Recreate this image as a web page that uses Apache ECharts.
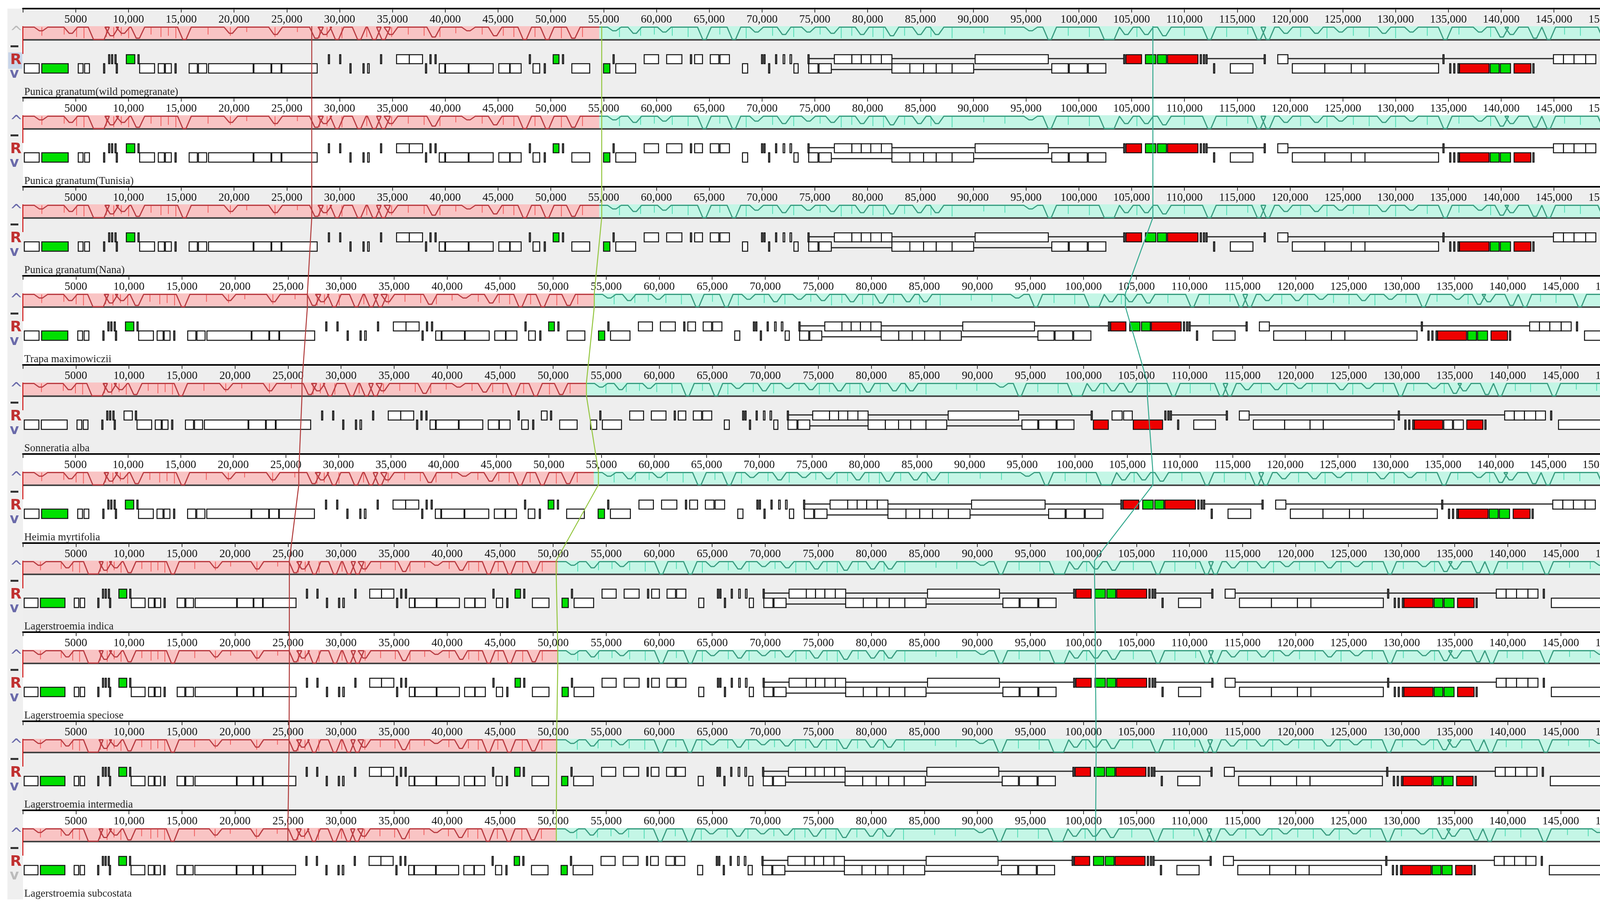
<!DOCTYPE html>
<html>
<head>
<meta charset="utf-8">
<script src="https://cdn.jsdelivr.net/npm/echarts@6/dist/echarts.min.js"></script>
<style>html,body{margin:0;padding:0;background:#fff}#chart{width:4396px;height:2324px}</style>
</head>
<body>
<div id="chart"></div>
<script>
// genomes, top to bottom
var genomeNames = ['Punica granatum(wild pomegranate)', 'Punica granatum(Tunisia)', 'Punica granatum(Nana)',
    'Trapa maximowiczii', 'Sonneratia alba', 'Heimia myrtifolia', 'Lagerstroemia indica',
    'Lagerstroemia speciose', 'Lagerstroemia intermedia', 'Lagerstroemia subcostata'];
var genomeLengths = [158600, 158600, 158600, 155400, 152800, 159200, 152300, 152300, 152200, 152100];
var lcbBoundaries = [54580, 54580, 54580, 53880, 53140, 54270, 50440, 50440, 50400, 50350];
// connector line positions (bp) per genome
var connRed = [27240, 27240, 27240, 26830, 26320, 26020, 25130, 25130, 25100, 24990];
var connGreen = [54580, 54580, 54580, 53880, 53140, 54270, 50290, 50440, 50330, 50300];
var connTeal = [106550, 106550, 106550, 103960, 106030, 106550, 101050, 101130, 101200, 101150];

// similarity profile dips of the reference genome: [start, end, depth 0..1]
var redDips = [[1720,1720,0.3],[4540,4540,0.5],[6840,7540,1.0],[8420,8420,0.7],[9480,9480,0.5],[10890,10890,0.9],
    [15300,15300,1.0],[19700,19700,0.5],[23930,23930,0.6],[27800,27800,0.9],[28600,28600,0.6],[29750,29750,1.0],
    [31850,31850,1.0],[33280,33280,1.0],[34150,34150,1.0],[34860,34860,0.6],[38910,38910,0.8],[42200,42200,0.3],
    [44730,44730,0.7],[47530,47530,1.0],[49660,49660,1.0],[52130,52130,0.9]];
var greenDips = [[56020,56020,0.3],[57950,57950,0.5],[60750,60750,0.4],[64540,64540,1.0],[67340,67340,1.0],
    [69480,69480,0.4],[72080,72080,0.6],[74400,74400,0.4],[76680,76680,0.5],[79480,79480,0.6],[82300,82300,0.7],
    [84900,84900,0.6],[86570,86570,0.6],[95440,95440,0.3],[97240,97240,1.0],[102560,103200,1.0],[104500,104500,0.6],
    [106400,106400,0.6],[108100,108100,0.7],[112360,112360,1.0],[117050,117050,1.0],[117900,117900,1.0],
    [119600,119600,0.5],[122500,122500,0.5],[124800,124800,0.4],[128900,128900,0.5],[131500,131500,0.4],
    [134700,134700,1.0],[138000,138000,0.4],[140050,140050,0.8],[141000,141000,0.6],[143200,143200,0.9],
    [144500,144500,1.0],[149800,149800,1.0],[155000,155000,0.3]];
// thin bright spikes in the profile: [position, depth]
var redSpikes = [[1800,0.7],[3915,0.6],[5090,0.8],[5790,0.9],[7910,0.8],[8610,0.9],[9320,0.7],[10020,0.9],
    [12140,0.6],[13080,0.8],[13780,0.7],[14490,0.9],[17540,0.6],[19650,0.7],[21200,0.4],[23880,0.8],[26000,0.4],
    [28110,0.9],[28810,0.8],[30220,0.9],[32570,0.8],[34920,0.8],[36500,0.6],[38000,0.7],[39500,0.8],[41000,0.5],
    [43500,0.6],[45500,0.7],[46500,0.8],[48500,0.8],[51000,0.9],[53000,0.8]];
var greenSpikes = [[56500,0.8],[58500,0.7],[59800,0.6],[61500,0.7],[63000,0.8],[66000,0.6],[68500,0.9],[71000,0.7],
    [73000,0.8],[75500,0.6],[77500,0.9],[78500,0.7],[80500,0.8],[81500,0.9],[83500,0.7],[86000,0.8],[88000,0.9],
    [91000,0.5],[93000,0.6],[99000,0.7],[101000,0.8],[105500,0.8],[110000,0.7],[114000,0.8],[116000,0.6],
    [121000,0.8],[123500,0.9],[126000,0.7],[127500,0.8],[130000,0.9],[133000,0.7],[136000,0.6],[139000,0.8],
    [146000,0.6],[147500,0.7],[152000,0.5],[154000,0.6],[157000,0.5]];

// reference gene annotation: [start, end, row (0 upper, 1 lower), kind (0 white, 1 green, 2 red, 3 connector)]
var genes = [
    [136,1547,1,0],[1793,4295,1,1],[5245,5700,1,0],[5850,6305,1,0],[7643,7700,1,0],[8843,8900,1,0],
    [11060,12470,1,0],[12824,13400,1,0],[13500,14058,1,0],[14408,14470,1,0],[15748,16525,1,0],[16629,17406,1,0],
    [17583,21811,1,0],[21881,23501,1,0],[23571,24455,1,0],[24525,27873,1,0],[30974,31030,1,0],[32208,32270,1,0],
    [32650,32800,1,0],[38127,38180,1,0],[39434,39960,1,0],[40030,42181,1,0],[42251,44541,1,0],[45073,46100,1,0],
    [46150,47187,1,0],[48313,48947,1,0],[49371,49430,1,0],[51990,53680,1,0],[54990,55590,1,1],[56150,58030,1,0],
    [68150,68640,1,0],[70620,70680,1,0],[73020,73420,1,0],[74420,75300,1,0],[75400,76560,1,0],[76560,82300,1,3],
    [82300,84000,1,0],[84000,85300,1,0],[85300,86500,1,0],[86500,88000,1,0],[88000,90040,1,0],[90040,97440,1,3],
    [97440,99000,1,0],[99100,100800,1,0],[100900,102560,1,0],[112760,112820,1,0],[114350,116490,1,0],
    [120220,123300,1,0],[123300,125800,1,0],[125800,127100,1,0],[127100,134070,1,0],[135120,135200,1,0],
    [135500,135600,1,0],[135900,135970,1,0],[136050,138850,1,2],[138960,139810,1,1],[139920,140880,1,1],
    [141220,142810,1,2],[143000,143060,1,0],[150250,157060,1,0],
    [8120,8180,0,0],[8400,8460,0,0],[8720,8780,0,0],[9800,10600,0,1],[10900,10960,0,0],[28930,28990,0,0],
    [30000,30060,0,0],[33870,33930,0,0],[35390,36600,0,0],[36600,37850,0,0],[38550,38610,0,0],[39030,39090,0,0],
    [47960,48020,0,0],[50220,50770,0,1],[51100,51160,0,0],[55890,55950,0,0],[58840,60200,0,0],[60970,62410,0,0],
    [63220,63280,0,0],[63620,64360,0,0],[65100,65910,0,0],[66020,66910,0,0],[69950,70010,0,0],[70180,70240,0,0],
    [71280,71340,0,0],[72000,72150,0,0],[72650,72800,0,0],[74350,74410,0,0],[74410,76850,0,3],[76850,78510,0,0],
    [78510,79400,0,0],[79400,80300,0,0],[80300,81300,0,0],[81300,82300,0,0],[82300,90180,0,3],[90180,97110,0,0],
    [97110,104250,0,3],[104250,104310,0,0],[104470,105940,0,2],[106310,107300,0,1],[107450,108300,0,1],
    [108400,111280,0,2],[111500,111560,0,0],[111800,111860,0,0],[112040,112100,0,0],[112100,117550,0,3],
    [117550,117610,0,0],[118840,119800,0,0],[119800,134480,0,3],[134480,134540,0,0],[134540,144950,0,3],
    [144950,145900,0,0],[145900,146900,0,0],[146900,148000,0,0],[148000,148960,0,0],[149470,149530,0,0],
    [157300,158600,0,0]];

var PX_PER_BP = 0.02715, LEFT = 58.5, TOP0 = 22, PH = 228;
var PT = 45, PB = 79; // profile box, panel-relative px
var refLen = genomeLengths[0], refB = lcbBoundaries[0];

function mapPos(x, i){
    var b = lcbBoundaries[i], len = genomeLengths[i];
    if(x <= refB) return x * b / refB;
    return b + (x - refB) * (len - b) / (refLen - refB);
}
function profile(dips, i, from, to){
    var top = PB - (PB - PT) * 0.93, pts = [[mapPos(from, i), top]];
    dips.forEach(function(d){
        var y = PB - (PB - PT) * 0.93 * (1 - d[2]);
        pts.push([mapPos(d[0] - 650, i), top], [mapPos(d[0] - 150, i), y], [mapPos(d[1] + 150, i), y], [mapPos(d[1] + 650, i), top]);
    });
    pts.push([mapPos(to, i), top]);
    return pts;
}

var grids = [], xAxes = [], yAxes = [], series = [], graphics = [];
var geneColors = ['#ffffff', '#00e000', '#ee0000'];

genomeNames.forEach(function(name, i){
    var top = TOP0 + PH * i, len = genomeLengths[i], gray = i % 2 === 0;
    grids.push({left: LEFT, top: top, width: len * PX_PER_BP, height: PH, show: gray,
        backgroundColor: '#eeeeee', borderWidth: 0});
    xAxes.push({gridIndex: i, type: 'value', position: 'top', min: 0, max: len, interval: 5000,
        axisLine: {lineStyle: {color: '#000', width: 4}},
        axisTick: {inside: true, length: 10, lineStyle: {color: '#333', width: 2}},
        axisLabel: {inside: true, margin: 14, fontFamily: 'Liberation Serif', fontSize: 29, color: '#111',
            formatter: function(v){ return v === 0 ? '' : (v < 10000 ? String(v) : v.toLocaleString('en-US')); }},
        splitLine: {show: false}});
    yAxes.push({gridIndex: i, type: 'value', min: 0, max: PH, inverse: true, show: false});

    var sonn = (i === 4);
    var pg = genes.map(function(g){
        var kind = g[3], row = g[2];
        if(sonn && kind === 1) kind = 0;
        if(sonn && kind === 2) row = 1;
        return [mapPos(g[0], i), mapPos(g[1], i), row, kind];
    });
    var spikes = redSpikes.map(function(s){ return [mapPos(s[0], i), s[1], 0]; })
        .concat(greenSpikes.map(function(s){ return [mapPos(s[0], i), s[1], 1]; }));

    // LCB background boxes
    series.push({type: 'custom', xAxisIndex: i, yAxisIndex: i, silent: true, z: 2,
        data: [[0, lcbBoundaries[i], 0], [lcbBoundaries[i], len, 1]],
        renderItem: function(params, api){
            var p0 = api.coord([api.value(0), PT]), p1 = api.coord([api.value(1), PB]);
            return {type: 'rect', shape: {x: p0[0], y: p0[1], width: p1[0] - p0[0], height: p1[1] - p0[1]},
                style: {fill: api.value(2) === 0 ? '#f9c4c4' : '#c4f6e6'}};
        }});
    series.push({type: 'custom', xAxisIndex: i, yAxisIndex: i, silent: true, z: 3, data: spikes,
        renderItem: function(params, api){
            var t = PB - (PB - PT) * 0.93;
            var a = api.coord([api.value(0), t]), b = api.coord([api.value(0), t + (PB - t) * api.value(1)]);
            return {type: 'line', shape: {x1: a[0], y1: a[1], x2: b[0], y2: b[1]},
                style: {stroke: api.value(2) === 0 ? '#f05c5c' : '#4fdcb4', lineWidth: 2}};
        }});
    series.push({type: 'line', xAxisIndex: i, yAxisIndex: i, silent: true, symbol: 'none', z: 4,
        data: profile(redDips, i, 0, refB), lineStyle: {color: '#b83c42', width: 3}});
    series.push({type: 'line', xAxisIndex: i, yAxisIndex: i, silent: true, symbol: 'none', z: 4,
        data: profile(greenDips, i, refB, refLen), lineStyle: {color: '#3a9c80', width: 3}});
    // base line under profile and red end markers
    series.push({type: 'custom', xAxisIndex: i, yAxisIndex: i, silent: true, z: 4,
        data: [[0, PB + 1, len, PB + 1, 0], [0, PT, 0, 116, 1], [len, PT, len, 116, 1]],
        renderItem: function(params, api){
            var a = api.coord([api.value(0), api.value(1)]), b = api.coord([api.value(2), api.value(3)]);
            return {type: 'line', shape: {x1: a[0], y1: a[1], x2: b[0], y2: b[1]},
                style: {stroke: api.value(4) === 0 ? '#444' : '#d01010', lineWidth: api.value(4) === 0 ? 4 : 2.5}};
        }});
    // genes
    series.push({type: 'custom', xAxisIndex: i, yAxisIndex: i, silent: true, z: 5, data: pg,
        renderItem: function(params, api){
            var row = api.value(2), kind = api.value(3);
            if(kind === 3){
                var yl = row === 0 ? 128 : 156;
                var a = api.coord([api.value(0), yl]), b = api.coord([api.value(1), yl]);
                return {type: 'line', shape: {x1: a[0], y1: a[1], x2: b[0], y2: b[1]}, style: {stroke: '#222', lineWidth: 3}};
            }
            var y0 = row === 0 ? 118 : 141, y1 = row === 0 ? 141 : 165;
            var p0 = api.coord([api.value(0), y0]), p1 = api.coord([api.value(1), y1]);
            var w = Math.max(p1[0] - p0[0], 3);
            return {type: 'rect', shape: {x: p0[0], y: p0[1], width: w, height: p1[1] - p0[1]},
                style: {fill: geneColors[kind], stroke: '#111', lineWidth: 2.5}};
        }});

    // side controls and label
    graphics.push({type: 'rect', left: 19, top: top, shape: {width: 40, height: PH}, style: {fill: '#efefef'}, silent: true, z: -1});
    if(i === 0) graphics.push({type: 'rect', left: 21, top: top + 112, shape: {width: 36, height: 42}, style: {fill: '#c9d6ea'}, silent: true});
    graphics.push({type: 'text', left: 25, top: top + 44, style: {text: '^', fontSize: 40, fontFamily: 'DejaVu Sans', fill: i === 0 ? '#bbbbbb' : '#6a6aaa'}});
    graphics.push({type: 'rect', left: 27, top: top + 94, shape: {width: 20, height: 5}, style: {fill: '#333'}});
    graphics.push({type: 'text', left: 26, top: top + 113, style: {text: 'R', fontSize: 38, fontWeight: 'bold', fontFamily: 'DejaVu Sans', fill: '#c03030'}});
    graphics.push({type: 'text', left: 25, top: top + 150, style: {text: 'v', fontSize: 36, fontWeight: 'bold', fontFamily: 'DejaVu Sans', fill: i === 9 ? '#bbbbbb' : '#6a6aaa'}});
    graphics.push({type: 'text', left: 62, top: top + 200, style: {text: name, fontSize: 27, fontFamily: 'Liberation Serif', fill: '#222'}});
});

// global grid for connecting lines
grids.push({left: LEFT, top: 0, width: 159000 * PX_PER_BP, height: 2324, show: false});
xAxes.push({gridIndex: 10, type: 'value', min: 0, max: 159000, show: false});
yAxes.push({gridIndex: 10, type: 'value', min: 0, max: 2324, inverse: true, show: false});
function connector(pos){
    var pts = [];
    pos.forEach(function(p, i){
        var top = TOP0 + PH * i;
        pts.push([p, top + PT], [p, top + PB]);
    });
    return pts;
}
[[connRed, '#b03a3a'], [connGreen, '#94c640'], [connTeal, '#35a98f']].forEach(function(c){
    series.push({type: 'line', xAxisIndex: 10, yAxisIndex: 10, silent: true, symbol: 'none', z: 10,
        data: connector(c[0]), lineStyle: {color: c[1], width: 2.5}});
});

var chart = echarts.init(document.getElementById('chart'));
chart.setOption({animation: false, backgroundColor: '#fff', grid: grids, xAxis: xAxes, yAxis: yAxes,
    series: series, graphic: graphics});
</script>
</body>
</html>
